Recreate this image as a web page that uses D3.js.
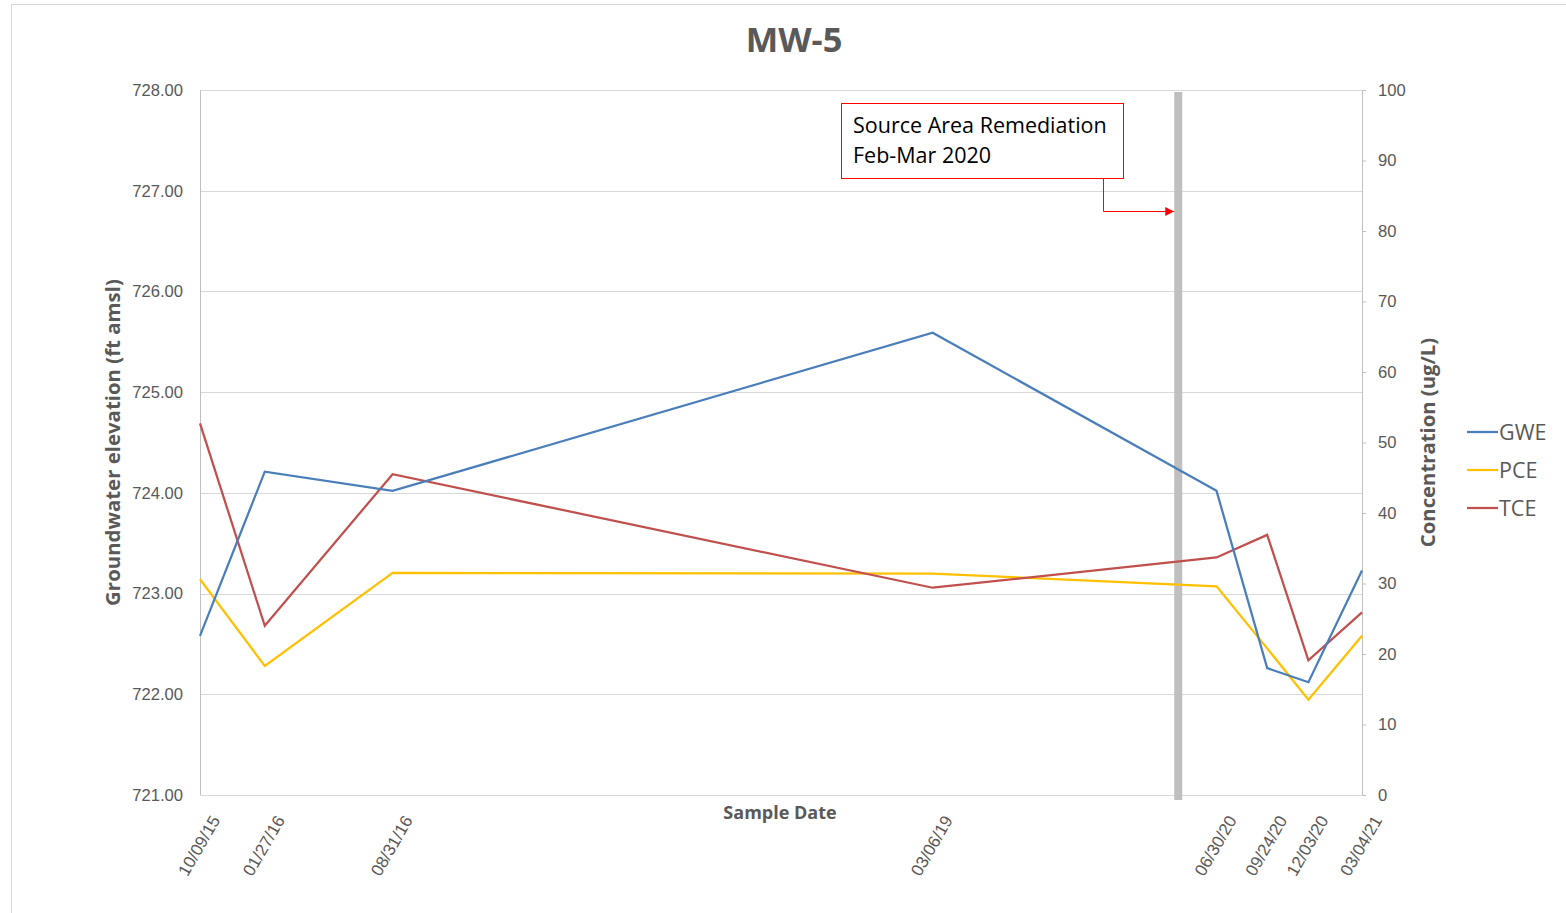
<!DOCTYPE html>
<html>
<head>
<meta charset="utf-8">
<script src="https://cdn.jsdelivr.net/npm/d3@7"></script>
<style>
  body { margin: 0; background: #fff; }
  svg { display: block; font-family: "Open Sans", "DejaVu Sans", sans-serif; }
  .tick text { fill: #595959; }
</style>
</head>
<body>
<div id="chart"></div>
<script>
//-----------------------------DATA-----------------------------//
const sampleDates = ["10/09/15", "01/27/16", "08/31/16", "03/06/19", "06/30/20", "09/24/20", "12/03/20", "03/04/21"];
const gwe = [722.58, 724.21, 724.02, 725.59, 724.02, 722.26, 722.12, 723.23];
const pce = [30.6, 18.3, 31.5, 31.4, 29.6, 20.8, 13.5, 22.6];
const tce = [52.7, 24.0, 45.5, 29.4, 33.7, 36.9, 19.1, 25.9];
const leftTicks = [721, 722, 723, 724, 725, 726, 727, 728];
const rightTicks = [0, 10, 20, 30, 40, 50, 60, 70, 80, 90, 100];
const remediationDate = "04/26/20";
const remediationText = ["Source Area Remediation", "Feb-Mar 2020"];
const seriesNames = ["GWE", "PCE", "TCE"];
const seriesColors = ["#4a7ebb", "#ffc000", "#c0504d"];

//------------------------1. PREPARATION------------------------//
const W = 1566, H = 913;
const margin = { top: 90, right: 204, bottom: 118, left: 200 };
const width = W - margin.left - margin.right;
const height = H - margin.top - margin.bottom;

const svg = d3.select("#chart").append("svg")
    .attr("width", W)
    .attr("height", H);

// chart area border
svg.append("rect")
    .attr("x", 11.5).attr("y", 4.5)
    .attr("width", 1620).attr("height", 1000)
    .attr("fill", "none")
    .attr("stroke", "#d9d9d9");

const g = svg.append("g")
    .attr("transform", "translate(" + margin.left + "," + margin.top + ")");

const parse = d3.timeParse("%m/%d/%y");
const dates = sampleDates.map(parse);

//----------------------------SCALES----------------------------//
const xScale = d3.scaleTime().domain(d3.extent(dates)).range([0, width]);
const yLeft = d3.scaleLinear().domain([721, 728]).range([height, 0]);
const yRight = d3.scaleLinear().domain([0, 100]).range([height, 0]);

//-----------------------------GRID-----------------------------//
g.append("g").selectAll("line")
    .data(leftTicks.slice(1))
    .enter().append("line")
    .attr("x1", 0).attr("x2", width)
    .attr("y1", d => Math.round(yLeft(d)) + 0.5)
    .attr("y2", d => Math.round(yLeft(d)) + 0.5)
    .attr("stroke", "#d9d9d9")
    .attr("stroke-width", 1);

//-----------------------------AXES-----------------------------//
const axisLeft = g.append("g")
    .call(d3.axisLeft(yLeft).tickValues(leftTicks).tickFormat(d3.format(".2f")).tickSize(0).tickPadding(17));
axisLeft.select(".domain").attr("stroke", "#bfbfbf");
axisLeft.selectAll("text").style("font-size", "16.6px");

const axisRight = g.append("g")
    .attr("transform", "translate(" + width + ",0)")
    .call(d3.axisRight(yRight).tickValues(rightTicks).tickSize(4).tickPadding(12));
axisRight.select(".domain").attr("stroke", "#bfbfbf").attr("d", "M0.5,0V" + height);
axisRight.selectAll("line").attr("stroke", "#bfbfbf");
axisRight.selectAll("text").style("font-size", "16.6px");

const axisBottom = g.append("g")
    .attr("transform", "translate(0," + height + ")")
    .call(d3.axisBottom(xScale).tickValues(dates).tickFormat(d3.timeFormat("%m/%d/%y")).tickSize(0));
axisBottom.select(".domain").attr("stroke", "#d9d9d9");
axisBottom.selectAll("text")
    .style("font-size", "17px")
    .style("text-anchor", "end")
    .attr("dy", "0.35em")
    .attr("y", 0)
    .attr("transform", "translate(15,22) rotate(-60)");

// axis titles
svg.append("text")
    .attr("transform", "translate(120," + (margin.top + height / 2) + ") rotate(-90)")
    .attr("text-anchor", "middle")
    .style("font-size", "20.4px").style("font-weight", "bold")
    .attr("fill", "#595959")
    .text("Groundwater elevation (ft amsl)");

svg.append("text")
    .attr("transform", "translate(1435," + (margin.top + height / 2) + ") rotate(-90)")
    .attr("text-anchor", "middle")
    .style("font-size", "20.3px").style("font-weight", "bold")
    .attr("fill", "#595959")
    .text("Concentration (ug/L)");

svg.append("text")
    .attr("x", 780).attr("y", 819)
    .attr("text-anchor", "middle")
    .style("font-size", "18px").style("font-weight", "bold")
    .attr("fill", "#595959")
    .text("Sample Date");

// title
svg.append("text")
    .attr("x", 794).attr("y", 52)
    .attr("text-anchor", "middle")
    .style("font-size", "34.5px").style("font-weight", "bold")
    .attr("fill", "#595959")
    .text("MW-5");

//------------------------REMEDIATION BAR------------------------//
const barX = xScale(parse(remediationDate));
g.append("line")
    .attr("x1", barX).attr("x2", barX)
    .attr("y1", 2).attr("y2", height + 5)
    .attr("stroke", "#bfbfbf")
    .attr("stroke-width", 8);

//----------------------------LINES-----------------------------//
const lineLeft = d3.line()
    .x((d, i) => xScale(dates[i]))
    .y(d => yLeft(d));
const lineRight = d3.line()
    .x((d, i) => xScale(dates[i]))
    .y(d => yRight(d));

g.append("path").attr("d", lineRight(pce))
    .attr("fill", "none").attr("stroke", seriesColors[1]).attr("stroke-width", 2.25);
g.append("path").attr("d", lineRight(tce))
    .attr("fill", "none").attr("stroke", seriesColors[2]).attr("stroke-width", 2.25);
g.append("path").attr("d", lineLeft(gwe))
    .attr("fill", "none").attr("stroke", seriesColors[0]).attr("stroke-width", 2.25);

//--------------------------CALLOUT-----------------------------//
svg.append("defs").append("marker")
    .attr("id", "arrow")
    .attr("viewBox", "0 0 10 10")
    .attr("refX", 10).attr("refY", 5)
    .attr("markerWidth", 9).attr("markerHeight", 9)
    .attr("markerUnits", "userSpaceOnUse")
    .attr("orient", "auto")
    .append("path").attr("d", "M0,0L10,5L0,10Z").attr("fill", "#ff0000");

const box = { x: 841.5, y: 103.5, w: 282, h: 75 };
svg.append("rect")
    .attr("x", box.x).attr("y", box.y)
    .attr("width", box.w).attr("height", box.h)
    .attr("fill", "#fff")
    .attr("stroke", "#ff0000").attr("stroke-width", 1);

svg.append("path")
    .attr("d", "M1103.5," + (box.y + box.h) + "V211.5H" + (margin.left + barX - 4))
    .attr("fill", "none")
    .attr("stroke", "#ff0000").attr("stroke-width", 1)
    .attr("marker-end", "url(#arrow)");

svg.append("g").selectAll("text")
    .data(remediationText)
    .enter().append("text")
    .attr("x", 853)
    .attr("y", (d, i) => 133 + i * 30)
    .style("font-size", "21.5px")
    .attr("fill", "#000")
    .text(d => d);

//---------------------------LEGEND-----------------------------//
const legend = svg.append("g").attr("transform", "translate(1467,432)");
const items = legend.selectAll("g")
    .data(seriesNames)
    .enter().append("g")
    .attr("transform", (d, i) => "translate(0," + (i * 38) + ")");
items.append("line")
    .attr("x1", 0).attr("x2", 31)
    .attr("stroke", (d, i) => seriesColors[i])
    .attr("stroke-width", 2.25);
items.append("text")
    .attr("x", 32).attr("dy", "0.35em")
    .style("font-size", "21.5px")
    .attr("fill", "#595959")
    .text(d => d);
</script>
</body>
</html>
